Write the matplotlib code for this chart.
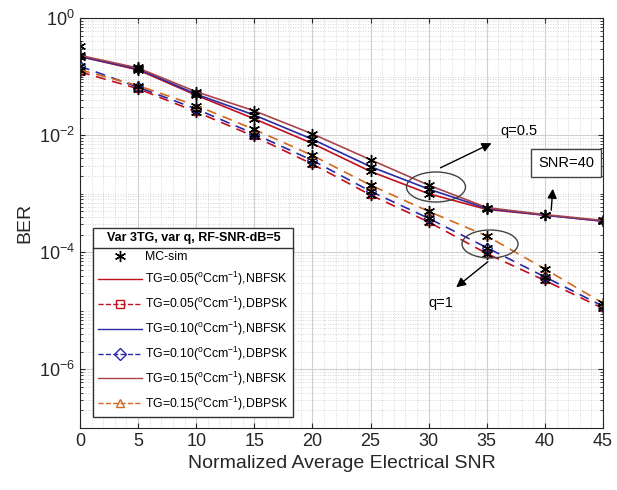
import numpy as np
import matplotlib.pyplot as plt
from matplotlib.patches import Ellipse
from matplotlib.lines import Line2D
from matplotlib.ticker import LogLocator, FixedLocator, NullFormatter

plt.rcParams['font.family'] = ['Liberation Sans', 'DejaVu Sans']
plt.rcParams['mathtext.fontset'] = 'custom'
plt.rcParams['mathtext.rm'] = 'Liberation Sans'

# normalized average electrical SNR
snr = [0, 5, 10, 15, 20, 25, 30, 35, 40, 45]

# q = 0.5, NBFSK (solid)
nbfsk_005 = [0.22, 0.13, 0.048, 0.019, 0.0072, 0.0024, 0.0010, 5.4e-4, 4.3e-4, 3.4e-4]
nbfsk_010 = [0.22, 0.135, 0.050, 0.022, 0.0085, 0.0029, 0.0012, 5.6e-4, 4.3e-4, 3.4e-4]
nbfsk_015 = [0.23, 0.14, 0.055, 0.026, 0.0105, 0.0038, 0.0014, 5.8e-4, 4.4e-4, 3.5e-4]

# q = 1, DBPSK (dashed)
dbpsk_005 = [0.12, 0.062, 0.025, 0.0095, 0.0032, 0.00095, 3.3e-4, 9.5e-5, 3.3e-5, 1.1e-5]
dbpsk_010 = [0.15, 0.066, 0.028, 0.0105, 0.0037, 0.0011, 3.8e-4, 1.2e-4, 3.8e-5, 1.2e-5]
dbpsk_015 = [0.13, 0.07, 0.032, 0.0125, 0.0045, 0.0014, 5.0e-4, 1.9e-4, 5.2e-5, 1.35e-5]

# MC-sim points that sit off the curves
mc_x = [0, 5]
mc_y = [0.33, 0.145]

labels = ['TG=0.05($^{\\rm o}$Ccm$^{-1}$),NBFSK', 'TG=0.05($^{\\rm o}$Ccm$^{-1}$),DBPSK',
          'TG=0.10($^{\\rm o}$Ccm$^{-1}$),NBFSK', 'TG=0.10($^{\\rm o}$Ccm$^{-1}$),DBPSK',
          'TG=0.15($^{\\rm o}$Ccm$^{-1}$),NBFSK', 'TG=0.15($^{\\rm o}$Ccm$^{-1}$),DBPSK']

fig = plt.figure(figsize=(6.17, 4.9), dpi=100)
AX_L, AX_R, AX_T, AX_B = 80, 603, 18, 428   # axes box in pixels
ax = fig.add_axes([AX_L / 617, 1 - AX_B / 490, (AX_R - AX_L) / 617, (AX_B - AX_T) / 490])

red = '#c0101e'
blue = '#2a2aa8'
brown = '#a8454a'
orange = '#d2691e'
star = (6, 2, 0)   # asterisk like matlab '*'

curves = [
    (nbfsk_005, red, '-', 'None'),
    (dbpsk_005, red, '--', 's'),
    (nbfsk_010, blue, '-', 'None'),
    (dbpsk_010, blue, '--', 'D'),
    (nbfsk_015, brown, '-', 'None'),
    (dbpsk_015, orange, '--', '^'),
]

for vals, col, ls, mk in curves:
    ax.plot(snr, vals, color=col, linestyle=ls, lw=1.2, marker=mk, ms=5,
            mfc='none', mew=1.0, dashes=(6, 4) if ls == '--' else (None, None))
    ax.plot(snr, vals, color='k', marker=star, ls='None', ms=8, mew=1.0)
ax.plot(mc_x, mc_y, color='k', marker=star, ls='None', ms=8, mew=1.0)

ax.set_yscale('log')
ax.set_xlim(0, 45)
ax.set_ylim(1e-7, 1)
ax.set_xticks(np.arange(0, 46, 5))
ax.yaxis.set_major_locator(FixedLocator([1e-6, 1e-4, 1e-2, 1]))
ax.yaxis.set_minor_locator(LogLocator(base=10, subs=np.arange(1, 10), numticks=30))
ax.yaxis.set_minor_formatter(NullFormatter())
ax.xaxis.set_minor_locator(FixedLocator(np.arange(0, 46, 1)))
ax.tick_params(which='both', direction='in', top=True, right=True, labelsize=13, colors='#262626')
ax.tick_params(which='minor', length=2.5)
ax.tick_params(which='minor', axis='x', length=0)
ax.grid(True, which='major', color='#d0d0d0', lw=0.8)
ax.grid(True, which='minor', color='#c8c8c8', lw=0.6, linestyle=(0, (1, 2)))
for sp in ax.spines.values():
    sp.set_color('#262626')

ax.set_xlabel('Normalized Average Electrical SNR', fontsize=14, color='#262626')
ax.set_ylabel('BER', fontsize=14, color='#262626')

# legend
handles = [Line2D([], [], color='k', marker=star, ls='None', ms=8, mew=1.0)]
for vals, col, ls, mk in curves:
    handles.append(Line2D([], [], color=col, linestyle=ls, marker=mk, mfc='none', ms=6, lw=1.0))
leg = ax.legend(handles, ['MC-sim'] + labels, loc='lower left', bbox_to_anchor=(0.014, 0.012),
                fontsize=8.8, title='Var 3TG, var q, RF-SNR-dB=5',
                title_fontproperties={'weight': 'bold', 'size': 9},
                fancybox=False, edgecolor='#333333', framealpha=1, handlelength=3.6, handletextpad=0.3,
                labelspacing=0.55, borderpad=0.35)
leg.get_frame().set_linewidth(1.0)

# separator line under the legend title
fig.canvas.draw()
fb = leg.get_frame().get_window_extent()
tb = leg.get_title().get_window_extent()
ysep = tb.y0 - 4
fig.add_artist(Line2D([fb.x0 / 617, fb.x1 / 617], [ysep / 490, ysep / 490], color='#333333', lw=1.0))

# annotations
def fr(px, py):
    return ((px - AX_L) / (AX_R - AX_L), (AX_B - py) / (AX_B - AX_T))

W, H = AX_R - AX_L, AX_B - AX_T
ax.add_patch(Ellipse(fr(436, 187), 59 / W, 30 / H, transform=ax.transAxes,
                     fill=False, ec='#444444', lw=1.0, zorder=5))
ax.add_patch(Ellipse(fr(490, 244), 56 / W, 28 / H, transform=ax.transAxes,
                     fill=False, ec='#444444', lw=1.0, zorder=5))
ax.annotate('', xy=fr(494, 142), xytext=fr(438, 169), xycoords='axes fraction',
            arrowprops=dict(arrowstyle='-|>', color='k', lw=1.0, mutation_scale=14))
ax.annotate('', xy=fr(553, 186), xytext=fr(551, 213), xycoords='axes fraction',
            arrowprops=dict(arrowstyle='-|>', color='k', lw=1.0, mutation_scale=14))
ax.annotate('', xy=fr(454, 289), xytext=fr(490, 260), xycoords='axes fraction',
            arrowprops=dict(arrowstyle='-|>', color='k', lw=1.0, mutation_scale=14))
ax.text(*fr(500, 131), 'q=0.5', transform=ax.transAxes, fontsize=10.5, va='center')
ax.text(*fr(428, 303), 'q=1', transform=ax.transAxes, fontsize=10.5, va='center')
ax.text(*fr(566, 163), 'SNR=40', transform=ax.transAxes, fontsize=10.5, ha='center', va='center',
        bbox=dict(boxstyle='square,pad=0.5', fc='white', ec='#444444', lw=1.0))

fig.savefig('out.png', dpi=100)
